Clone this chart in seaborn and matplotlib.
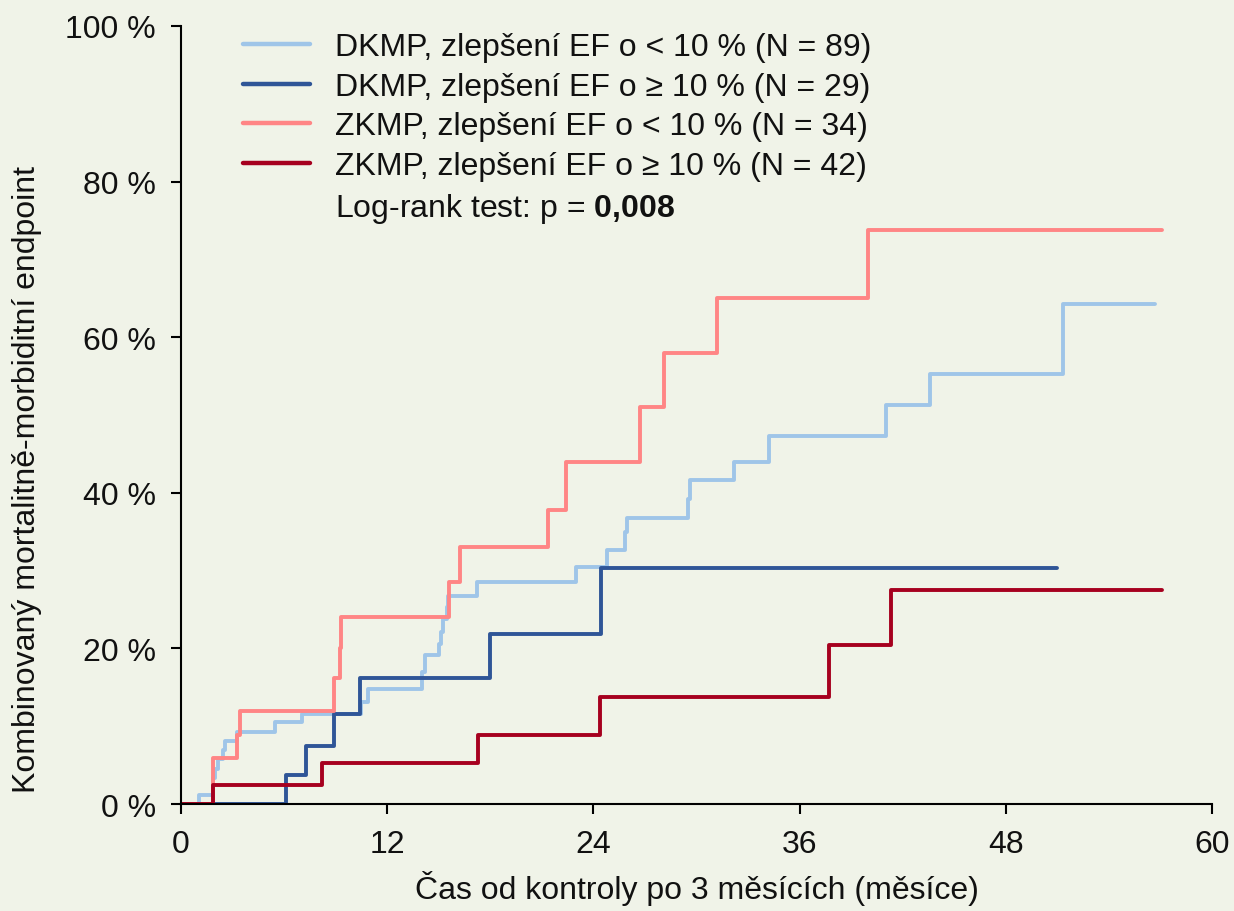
import matplotlib
matplotlib.use("Agg")
import matplotlib.pyplot as plt
from matplotlib.lines import Line2D
from matplotlib.ticker import FuncFormatter
import seaborn as sns
import pandas as pd

# --- data (months, cumulative % with endpoint) ---
groups = [
    "DKMP, zlepšení EF o < 10 % (N = 89)",
    "DKMP, zlepšení EF o ≥ 10 % (N = 29)",
    "ZKMP, zlepšení EF o < 10 % (N = 34)",
    "ZKMP, zlepšení EF o ≥ 10 % (N = 42)",
]
colors = ["#9fc5e8", "#2f5597", "#ff8585", "#a6001f"]

dkmp_lo_t = [0, 1.05, 1.85, 2.0, 2.17, 2.46, 2.56, 3.24, 5.47, 7.02, 10.5, 10.9,
             14.0, 14.2, 15.0, 15.15, 15.27, 15.46, 15.56, 17.2, 23.0, 24.8, 25.84,
             25.94, 29.5, 29.6, 32.2, 34.2, 41.0, 43.6, 51.3, 56.7]
dkmp_lo_p = [0, 1.1, 3.4, 4.5, 5.8, 6.9, 8.1, 9.2, 10.5, 11.6, 13.1, 14.8,
             17.0, 19.1, 20.6, 22.1, 23.8, 25.3, 26.8, 28.6, 30.5, 32.7, 34.9,
             36.8, 39.2, 41.6, 43.9, 47.3, 51.3, 55.3, 64.3, 64.3]

dkmp_hi_t = [0, 6.11, 7.3, 8.92, 10.42, 18.0, 24.45, 51.0]
dkmp_hi_p = [0, 3.7, 7.5, 11.6, 16.2, 21.8, 30.3, 30.3]

zkmp_lo_t = [0, 1.84, 3.24, 3.43, 8.92, 9.25, 9.31, 15.6, 16.24, 21.38, 22.4,
             26.7, 28.1, 31.2, 40.0, 57.1]
zkmp_lo_p = [0, 5.9, 8.9, 12.0, 16.2, 20.1, 24.1, 28.5, 33.0, 37.8, 44.0,
             51.0, 58.0, 65.0, 73.8, 73.8]

zkmp_hi_t = [0, 1.88, 8.19, 17.3, 24.4, 37.7, 41.3, 57.1]
zkmp_hi_p = [0, 2.4, 5.3, 8.9, 13.7, 20.4, 27.5, 27.5]

x_ticks = [0, 12, 24, 36, 48, 60]
y_ticks = [0, 20, 40, 60, 80, 100]

series = [(dkmp_lo_t, dkmp_lo_p), (dkmp_hi_t, dkmp_hi_p),
          (zkmp_lo_t, zkmp_lo_p), (zkmp_hi_t, zkmp_hi_p)]
frames = []
for name, (t, p) in zip(groups, series):
    frames.append(pd.DataFrame({"t": t, "p": p, "skupina": name}))
df = pd.concat(frames, ignore_index=True)

# --- style ---
bg = "#f0f3e8"
sns.set_theme(style="ticks")
plt.rcParams["font.family"] = ["Liberation Sans", "DejaVu Sans"]
plt.rcParams["mathtext.fontset"] = "custom"
plt.rcParams["mathtext.rm"] = "Liberation Sans"
plt.rcParams["mathtext.bf"] = "Liberation Sans:bold"

fig = plt.figure(figsize=(12.34, 9.12), dpi=100, facecolor=bg)
ax = fig.add_axes([0.1467, 0.1173, 0.8355, 0.8531])
ax.set_facecolor(bg)

sns.lineplot(data=df, x="t", y="p", hue="skupina", hue_order=groups,
             palette=colors, drawstyle="steps-post", estimator=None,
             sort=False, linewidth=2.8, legend=False, ax=ax)

ax.set_xlim(0, 60)
ax.set_ylim(0, 100)
ax.set_xticks(x_ticks)
ax.set_yticks(y_ticks)
ax.yaxis.set_major_formatter(FuncFormatter(lambda v, pos: f"{v:.0f} %"))

for side in ["top", "right"]:
    ax.spines[side].set_visible(False)
for side in ["left", "bottom"]:
    ax.spines[side].set_linewidth(1.5)
    ax.spines[side].set_color("black")
ax.tick_params(axis="both", direction="out", length=7, width=1.5,
               color="black", labelsize=23, labelcolor="#111111", pad=11)

ax.set_xlabel("Čas od kontroly po 3 měsících (měsíce)", fontsize=23,
              color="#111111", labelpad=8)
ax.set_ylabel("Kombinovaný mortalitně-morbiditní endpoint", fontsize=23,
              color="#111111")
ax.yaxis.set_label_coords(-0.135, 0.418)

# legenda
handles = [Line2D([], [], color=c, linewidth=3.2) for c in colors]
handles.append(Line2D([], [], color="none"))
labels = groups + ["Log-rank test: p = $\\mathbf{0{,}008}$"]
ax.legend(handles, labels, loc="upper left", bbox_to_anchor=(0.060, 0.992),
          frameon=False, fontsize=23, borderpad=0, borderaxespad=0,
          handlelength=2.1, handletextpad=0.78, labelspacing=0.3,
          labelcolor="#111111")

fig.savefig("out.png", dpi=100, facecolor=bg)
